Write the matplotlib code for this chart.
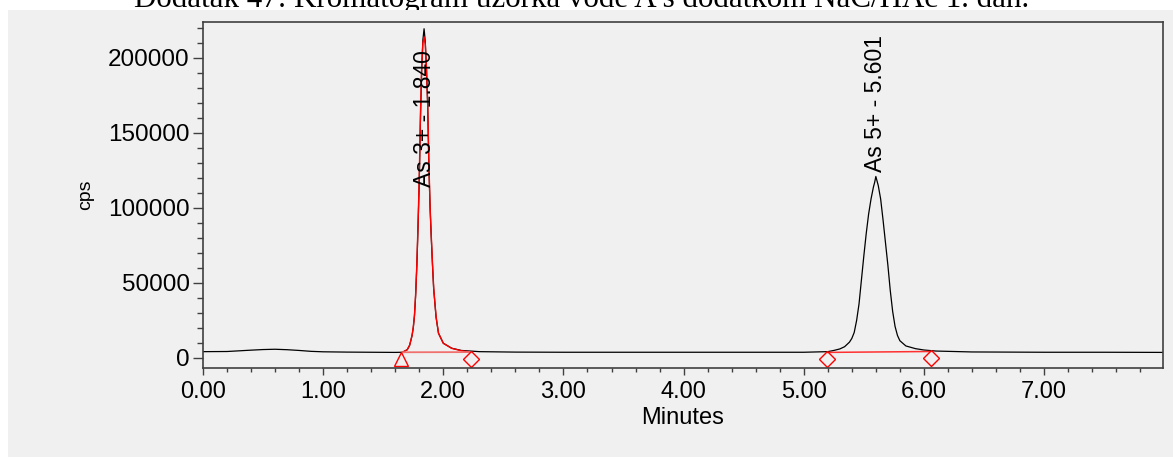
from matplotlib import pyplot as plt
from matplotlib.patches import Rectangle
from matplotlib.ticker import MultipleLocator, FormatStrFormatter

#===== data =====#
title = "Dodatak 47: Kromatogram uzorka vode A s dodatkom NaC/HAc 1. dan."

time = [0.00, 0.20, 0.40, 0.50, 0.60, 0.70, 0.80, 0.90, 1.00, 1.20,
        1.40, 1.60, 1.66, 1.70, 1.72, 1.74, 1.75, 1.76, 1.77, 1.78,
        1.79, 1.80, 1.81, 1.82, 1.83, 1.84, 1.85, 1.86, 1.87, 1.88,
        1.89, 1.90, 1.91, 1.92, 1.94, 1.96, 2.00, 2.07, 2.15, 2.30,
        2.60, 3.00, 3.50, 4.00, 4.50, 5.00, 5.20, 5.25, 5.30, 5.34,
        5.38, 5.40, 5.42, 5.44, 5.46, 5.48, 5.50, 5.52, 5.54, 5.56,
        5.58, 5.59, 5.60, 5.61, 5.62, 5.64, 5.66, 5.68, 5.70, 5.72,
        5.74, 5.76, 5.78, 5.80, 5.85, 5.93, 6.00, 6.10, 6.40, 7.00,
        7.50, 7.99]
cps = [4200, 4300, 5200, 5600, 5800, 5500, 5000, 4400, 4100, 3900,
       3800, 3700, 3800, 5500, 8500, 15000, 20000, 28000, 42000, 62000,
       88000, 118000, 160000, 192000, 212000, 219500, 211000, 192000, 168000, 128000,
       100000, 80000, 62000, 46000, 27000, 16500, 9800, 6500, 5000, 4200,
       3900, 3800, 3800, 3800, 3800, 3800, 4200, 5000, 6000, 7500,
       10500, 13000, 17000, 25000, 36000, 52000, 68000, 83000, 96000, 106000,
       114000, 117000, 121000, 118000, 115000, 106000, 92000, 77000, 62000, 45000,
       31000, 21000, 15000, 11500, 8000, 6200, 5300, 4600, 4000, 3800,
       3800, 3700]

# red fitted trace over the first peak
fit_time = [1.66, 1.70, 1.72, 1.74, 1.75, 1.76, 1.77, 1.78, 1.79, 1.80,
            1.81, 1.82, 1.83, 1.84, 1.85, 1.86, 1.87, 1.88, 1.89, 1.90,
            1.91, 1.92, 1.94, 1.96, 2.00, 2.07, 2.15, 2.22]
fit_cps = [3800, 5500, 8500, 15000, 20500, 28500, 43000, 63000, 90000, 121000,
           163000, 194000, 210000, 214000, 209000, 193000, 170000, 130000, 101000, 81000,
           63000, 46500, 27500, 16500, 9800, 6400, 4800, 4000]

# integration baselines
base1_t = [1.66, 2.22]
base1_v = [3800, 3900]
base2_t = [5.20, 6.05]
base2_v = [3700, 4300]

# peak start / end markers
mark_t = [1.65, 2.23, 5.19, 6.06]
mark_v = [-1000, -700, -700, 0]
mark_shape = ["^", "D", "D", "D"]

# peak labels
peak_rt = [1.840, 5.601]
peak_name = ["As 3+ - 1.840", "As 5+ - 5.601"]
label_base = [114000, 124000]

#===== figure =====#
W, H = 1173, 457
fig = plt.figure(figsize=(W / 100, H / 100), dpi=100, facecolor="white")
fig.patches.append(Rectangle((8 / W, 0), 1, 447 / H, transform=fig.transFigure,
                             facecolor="#F0F0F0", edgecolor="none", zorder=-1))
fig.text(582 / W, 1 - 7 / H, title, ha="center", va="baseline", fontsize=22.3,
         family="Liberation Serif", zorder=-2)

ax = fig.add_axes([203 / W, 1 - 368 / H, 960 / W, 346 / H])
ax.set_facecolor("#F0F0F0")

ax.plot(time, cps, color="black", lw=0.9)
ax.plot(fit_time, fit_cps, color="red", lw=1.0)
ax.plot(base1_t, base1_v, color="#F07070", lw=1.3)
ax.plot(base2_t, base2_v, color="#FF3030", lw=1.1)
for t, v, m in zip(mark_t, mark_v, mark_shape):
    ax.plot(t, v, marker=m, ms=10 if m == "^" else 8, mfc="none", mec="red", mew=1.0,
            linestyle="none", clip_on=False)

for t, name, yb in zip(peak_rt, peak_name, label_base):
    ax.text(t, yb, name, rotation=90, ha="center", va="bottom", fontsize=16.5,
            family="Liberation Sans")

ax.set_xlim(0, 7.99)
ax.set_ylim(-6700, 224000)
ax.xaxis.set_major_locator(MultipleLocator(1.0))
ax.xaxis.set_minor_locator(MultipleLocator(0.2))
ax.xaxis.set_major_formatter(FormatStrFormatter("%.2f"))
ax.yaxis.set_major_locator(MultipleLocator(50000))
ax.yaxis.set_minor_locator(MultipleLocator(10000))

spine_c = "#404040"
for s in ax.spines.values():
    s.set_color(spine_c)
    s.set_linewidth(1.2)

ax.tick_params(axis="x", which="major", length=5, width=1, color=spine_c, pad=4,
               labelsize=17)
ax.tick_params(axis="x", which="minor", length=3, width=1, color=spine_c)
ax.tick_params(axis="y", which="major", length=7.5, width=1, color=spine_c, pad=2,
               labelsize=17.5)
ax.tick_params(axis="y", which="minor", length=4.5, width=1, color=spine_c)
for lab in ax.get_xticklabels() + ax.get_yticklabels():
    lab.set_family("Liberation Sans")

ax.set_xlabel("Minutes", fontsize=17, family="Liberation Sans", labelpad=3)
ax.set_ylabel("cps", fontsize=14, family="Liberation Sans", labelpad=10)

fig.savefig("out.png", dpi=100, facecolor=fig.get_facecolor())
